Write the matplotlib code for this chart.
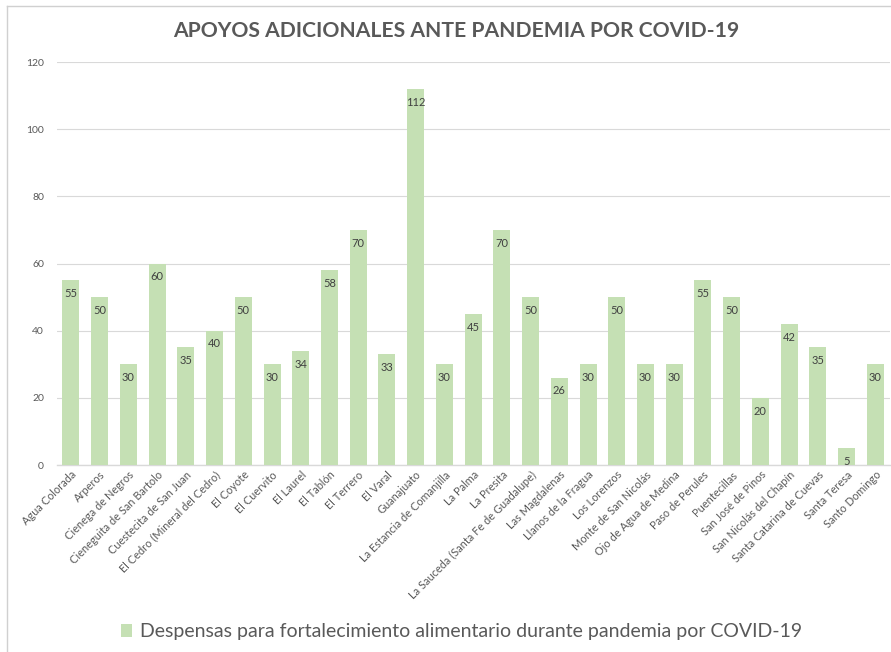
import matplotlib
matplotlib.use('Agg')
from matplotlib import pyplot as plt
from matplotlib.patches import Patch
from matplotlib.lines import Line2D

plt.rcParams['font.family'] = ['Lato', 'DejaVu Sans']

# Datos
localidades = [
    "Agua Colorada", "Arperos", "Cienega de Negros", "Cieneguita de San Bartolo",
    "Cuestecita de San Juan", "El Cedro (Mineral del Cedro)", "El Coyote",
    "El Cuervito", "El Laurel", "El Tablón", "El Terrero", "El Varal",
    "Guanajuato", "La Estancia de Comanjilla", "La Palma", "La Presita",
    "La Sauceda (Santa Fe de Guadalupe)", "Las Magdalenas", "Llanos de la Fragua",
    "Los Lorenzos", "Monte de San Nicolás", "Ojo de Agua de Medina",
    "Paso de Perules", "Puentecillas", "San José de Pinos",
    "San Nicolás del Chapín", "Santa Catarina de Cuevas", "Santa Teresa",
    "Santo Domingo",
]
despensas = [55, 50, 30, 60, 35, 40, 50, 30, 34, 58, 70, 33, 112, 30, 45, 70,
             50, 26, 30, 50, 30, 30, 55, 50, 20, 42, 35, 5, 30]
y_ticks = [0, 20, 40, 60, 80, 100, 120]

titulo = "APOYOS ADICIONALES ANTE PANDEMIA POR COVID-19"
serie = "Despensas para fortalecimiento alimentario durante pandemia por COVID-19"

verde = '#C5E0B4'
gris_texto = '#595959'
gris_linea = '#D9D9D9'

fig = plt.figure(figsize=(8.91, 6.52), dpi=100)
ax = fig.add_axes([0.0635, 0.2868, 0.935, 0.6181])

x = list(range(len(localidades)))
bars = ax.bar(x, despensas, width=0.59, color=verde, zorder=3)

# Etiquetas de valor dentro del extremo de la barra
for b, v in zip(bars, despensas):
    ax.annotate(str(v), (b.get_x() + b.get_width() / 2, v),
                xytext=(0, -9.5), textcoords='offset points',
                ha='center', va='center', fontsize=8, color='#404040', zorder=4)

ax.set_xlim(-0.5, len(localidades) - 0.5)
ax.set_ylim(0, 120)
ax.set_yticks(y_ticks)
ax.yaxis.grid(True, color=gris_linea, linewidth=0.8, zorder=0)
ax.set_axisbelow(True)
ax.tick_params(axis='y', length=0, pad=9, labelsize=7.5, labelcolor=gris_texto)
ax.tick_params(axis='x', length=0, pad=3)
ax.set_xticks(x)
ax.set_xticklabels(localidades, rotation=45, ha='right', va='top',
                   rotation_mode='anchor', fontsize=7.9, color=gris_texto)

for s in ['top', 'right', 'left']:
    ax.spines[s].set_visible(False)
ax.spines['bottom'].set_color(gris_linea)
ax.spines['bottom'].set_linewidth(1.0)

fig.text(0.512, 0.953, titulo, ha='center', va='center', fontsize=15.2,
         fontweight='bold', color=gris_texto)

handle = Patch(facecolor=verde, edgecolor='none')
fig.legend([handle], [serie], loc='center', bbox_to_anchor=(0.518, 0.031),
           frameon=False, fontsize=14, labelcolor=gris_texto,
           handlelength=0.6, handleheight=0.6, handletextpad=0.4)

# Marco del gráfico
fig.add_artist(Line2D([0.008, 0.008], [0.0, 0.991], transform=fig.transFigure,
                      color='#D0D0D0', linewidth=1))
fig.add_artist(Line2D([0.008, 1.0], [0.991, 0.991], transform=fig.transFigure,
                      color='#D0D0D0', linewidth=1))

fig.savefig('out.png', dpi=100)
